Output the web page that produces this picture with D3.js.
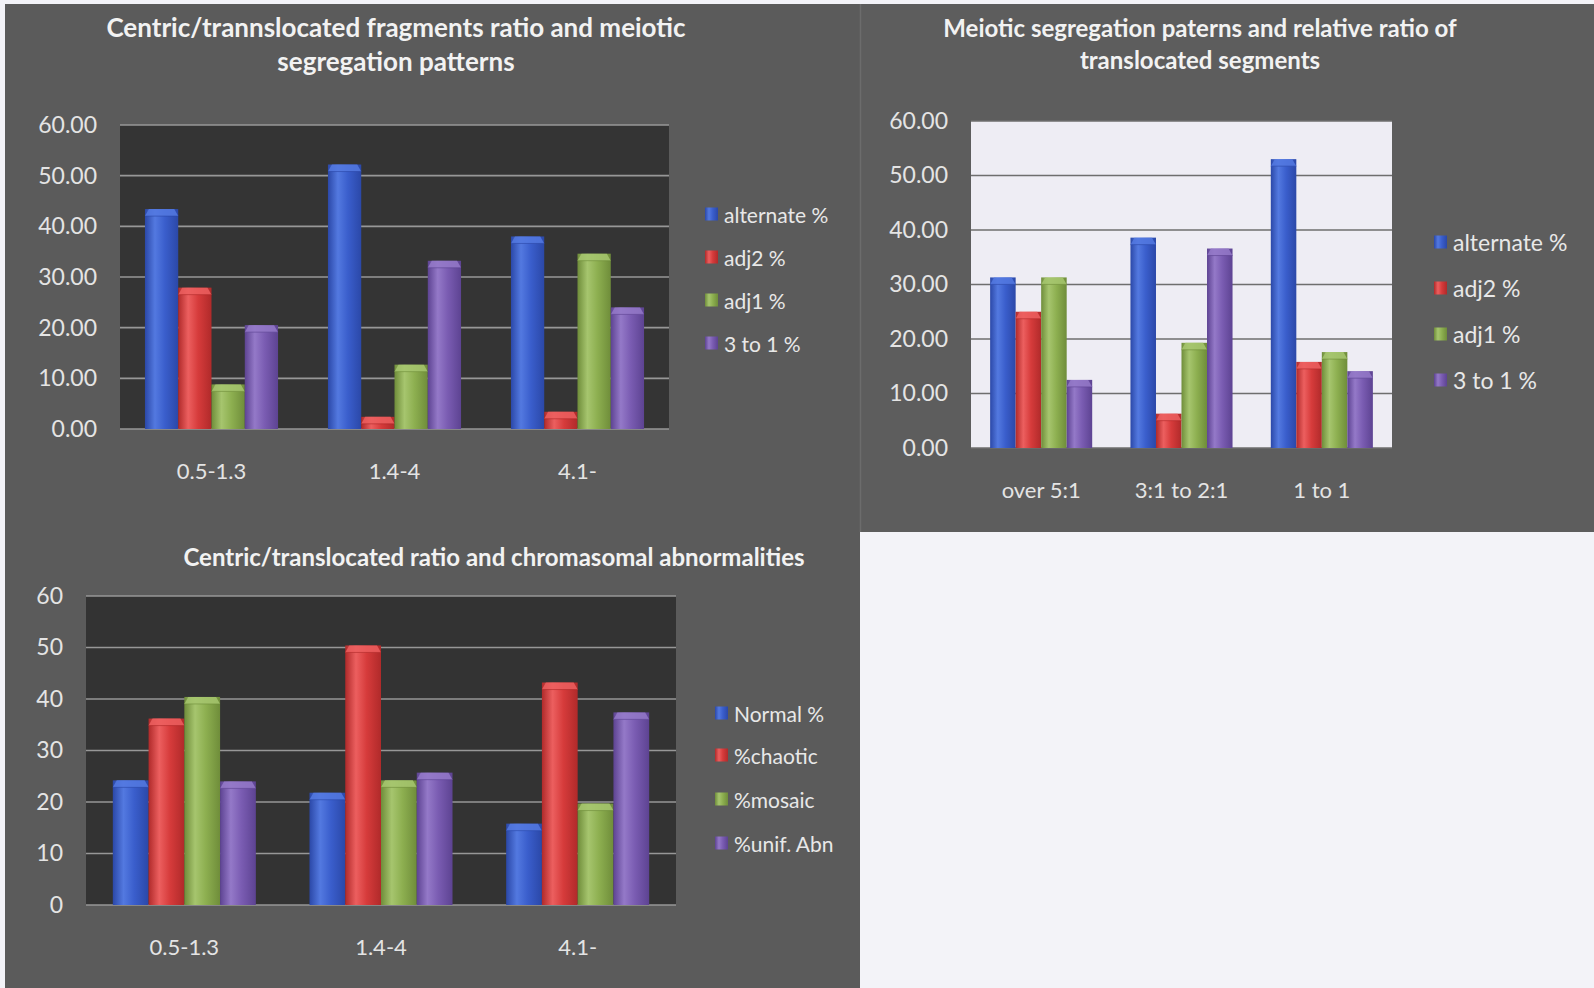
<!DOCTYPE html>
<html>
<head>
<meta charset="utf-8">
<script src="https://cdn.jsdelivr.net/npm/d3@7/dist/d3.min.js"></script>
<style>
  html, body { margin: 0; padding: 0; background: #f3f3f8; }
  svg { display: block; }
  text { font-family: Lato, "Open Sans", sans-serif; }
</style>
</head>
<body>
<script>
// ---- Data ----------------------------------------------------------------
const fragCategories = ["0.5-1.3", "1.4-4", "4.1-"];
const segSeriesNames = ["alternate %", "adj2 %", "adj1 %", "3 to 1 %"];
const fragAlternate = [43.4, 52.2, 38.0];
const fragAdj2 = [27.9, 2.4, 3.4];
const fragAdj1 = [8.8, 12.7, 34.6];
const fragThreeToOne = [20.5, 33.2, 24.0];

const segmentCategories = ["over 5:1", "3:1 to 2:1", "1 to 1"];
const segmentAlternate = [31.3, 38.6, 53.0];
const segmentAdj2 = [25.0, 6.3, 15.8];
const segmentAdj1 = [31.3, 19.3, 17.6];
const segmentThreeToOne = [12.5, 36.6, 14.1];

const abnCategories = ["0.5-1.3", "1.4-4", "4.1-"];
const abnSeriesNames = ["Normal %", "%chaotic", "%mosaic", "%unif. Abn"];
const abnNormal = [24.2, 21.8, 15.8];
const abnChaotic = [36.2, 50.4, 43.2];
const abnMosaic = [40.4, 24.2, 19.7];
const abnUnifAbn = [24.0, 25.7, 37.4];

const yTicks = [0, 10, 20, 30, 40, 50, 60];

// ---- Palette -------------------------------------------------------------
const palette = [
  { id: "blue",   base: "#3a5ecc", light: "#5379e0", dark: "#2b48a8" },
  { id: "red",    base: "#d63b3b", light: "#ec5f5f", dark: "#b02a2a" },
  { id: "green",  base: "#8daf50", light: "#a6c56e", dark: "#6f8d3a" },
  { id: "purple", base: "#7a5cb2", light: "#9479c8", dark: "#5d4392" }
];

const W = 1594, H = 988;
const svg = d3.select("body").append("svg").attr("width", W).attr("height", H);

const defs = svg.append("defs");
palette.forEach(p => {
  const g = defs.append("linearGradient").attr("id", "grad-" + p.id)
    .attr("x1", 0).attr("y1", 0).attr("x2", 1).attr("y2", 0);
  g.append("stop").attr("offset", "0%").attr("stop-color", p.dark);
  g.append("stop").attr("offset", "30%").attr("stop-color", p.light);
  g.append("stop").attr("offset", "60%").attr("stop-color", p.base);
  g.append("stop").attr("offset", "100%").attr("stop-color", p.dark);
});

// page and chart panels
svg.append("rect").attr("width", W).attr("height", H).attr("fill", "#f3f3f8");
svg.append("rect").attr("x", 5).attr("y", 4).attr("width", 855).attr("height", H - 4).attr("fill", "#5b5b5b");
svg.append("rect").attr("x", 860).attr("y", 4).attr("width", W - 860).attr("height", 528).attr("fill", "#5d5d5d");
svg.append("line").attr("x1", 860.5).attr("x2", 860.5).attr("y1", 4).attr("y2", 532)
  .attr("stroke", "#6c6c6c").attr("stroke-width", 1.5);

function drawChart(cfg) {
  const g = svg.append("g");
  const { left, right, top, bottom } = cfg.plot;

  const y = d3.scaleLinear().domain([0, 60]).range([bottom, top]);
  const x = d3.scaleBand().domain(cfg.categories).range([left, right]).padding(0);
  const bw = x.bandwidth();
  const gap = bw * 1.5 / 5.5;
  const xs = d3.scaleBand().domain(cfg.series.map(s => s.name)).range([gap / 2, bw - gap / 2]).padding(0);

  // plot area
  g.append("rect").attr("x", left).attr("y", top).attr("width", right - left).attr("height", bottom - top)
    .attr("fill", cfg.plotFill);

  // gridlines
  g.append("g").selectAll("line").data(yTicks).join("line")
    .attr("x1", left).attr("x2", right)
    .attr("y1", d => y(d)).attr("y2", d => y(d))
    .attr("stroke", cfg.gridColor).attr("stroke-width", 1.6);

  // y axis labels
  const yAxis = g.append("g").attr("transform", `translate(${left},0)`)
    .call(d3.axisLeft(y).tickValues(yTicks).tickFormat(cfg.tickFormat).tickSize(0).tickPadding(23));
  yAxis.select(".domain").remove();
  yAxis.selectAll("text").attr("fill", "#e4e4e4").attr("font-size", cfg.tickSize);

  // x axis labels
  const xAxis = g.append("g").attr("transform", `translate(0,${bottom})`)
    .call(d3.axisBottom(x).tickSize(0).tickPadding(34));
  xAxis.select(".domain").remove();
  xAxis.selectAll("text").attr("fill", "#e4e4e4").attr("font-size", 22);

  // bars
  cfg.series.forEach((s, si) => {
    const p = palette[si];
    const bars = g.append("g");
    s.values.forEach((v, ci) => {
      const bx = x(cfg.categories[ci]) + xs(s.name);
      const w = xs.bandwidth();
      const by = y(v);
      const h = y(0) - by;
      bars.append("rect").attr("x", bx).attr("y", by).attr("width", w).attr("height", h)
        .attr("fill", `url(#grad-${p.id})`);
      const bev = Math.min(7, h);
      const inset = Math.min(4, w / 4);
      bars.append("path")
        .attr("d", `M${bx},${by + bev}L${bx + inset},${by}L${bx + w - inset},${by}L${bx + w},${by + bev}Z`)
        .attr("fill", p.light).attr("opacity", 0.85);
      bars.append("line").attr("x1", bx).attr("x2", bx + w).attr("y1", by + bev).attr("y2", by + bev)
        .attr("stroke", p.dark).attr("stroke-width", 1).attr("opacity", 0.6);
    });
  });

  // title
  g.append("g").selectAll("text").data(cfg.title).join("text")
    .attr("x", cfg.titleX).attr("y", (d, i) => cfg.titleY[i])
    .attr("text-anchor", "middle").attr("dominant-baseline", "central")
    .attr("font-weight", "bold").attr("font-size", cfg.titleSize).attr("fill", "#f2f2f2")
    .text(d => d);

  // legend
  const lg = g.append("g");
  cfg.series.forEach((s, si) => {
    const p = palette[si];
    const ly = cfg.legend.ys[si];
    lg.append("rect").attr("x", cfg.legend.x).attr("y", ly - 6.5).attr("width", 13).attr("height", 13)
      .attr("fill", `url(#grad-${p.id})`);
    lg.append("text").attr("x", cfg.legend.x + 19).attr("y", ly)
      .attr("dominant-baseline", "central").attr("font-size", cfg.legend.size).attr("fill", "#e8e8e8")
      .text(s.name);
  });
}

drawChart({
  plot: { left: 120, right: 669, top: 125, bottom: 429 },
  plotFill: "#343434",
  gridColor: "#979797",
  tickFormat: d3.format(".2f"),
  tickSize: 23,
  categories: fragCategories,
  series: [
    { name: segSeriesNames[0], values: fragAlternate },
    { name: segSeriesNames[1], values: fragAdj2 },
    { name: segSeriesNames[2], values: fragAdj1 },
    { name: segSeriesNames[3], values: fragThreeToOne }
  ],
  title: ["Centric/trannslocated fragments ratio and meiotic", "segregation patterns"],
  titleX: 396, titleY: [27, 61], titleSize: 26,
  legend: { x: 705, ys: [214, 257, 300, 343], size: 21 }
});

drawChart({
  plot: { left: 971, right: 1392, top: 121, bottom: 448 },
  plotFill: "#eeedf4",
  gridColor: "#6e6e6e",
  tickFormat: d3.format(".2f"),
  tickSize: 23,
  categories: segmentCategories,
  series: [
    { name: segSeriesNames[0], values: segmentAlternate },
    { name: segSeriesNames[1], values: segmentAdj2 },
    { name: segSeriesNames[2], values: segmentAdj1 },
    { name: segSeriesNames[3], values: segmentThreeToOne }
  ],
  title: ["Meiotic segregation paterns and relative ratio of", "translocated segments"],
  titleX: 1200, titleY: [27, 59], titleSize: 24,
  legend: { x: 1434, ys: [242, 288, 334, 380], size: 23 }
});

drawChart({
  plot: { left: 86, right: 676, top: 596, bottom: 905 },
  plotFill: "#333333",
  gridColor: "#979797",
  tickFormat: d3.format("d"),
  tickSize: 23,
  categories: abnCategories,
  series: [
    { name: abnSeriesNames[0], values: abnNormal },
    { name: abnSeriesNames[1], values: abnChaotic },
    { name: abnSeriesNames[2], values: abnMosaic },
    { name: abnSeriesNames[3], values: abnUnifAbn }
  ],
  title: ["Centric/translocated ratio and chromasomal abnormalities"],
  titleX: 494, titleY: [556], titleSize: 24,
  legend: { x: 715, ys: [713, 755, 799, 843], size: 21 }
});
</script>
</body>
</html>
